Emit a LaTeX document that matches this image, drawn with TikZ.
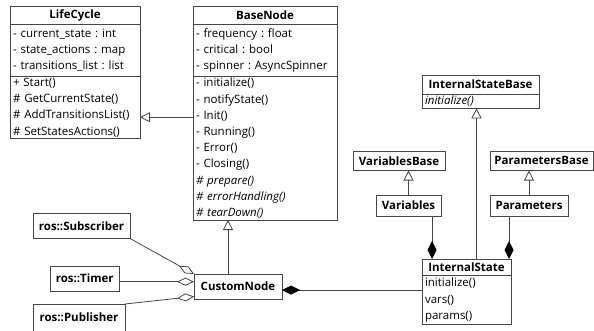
\documentclass[tikz,border=0pt]{standalone}
\usepackage{fontspec}
\setmainfont{Open Sans}
\usetikzlibrary{arrows.meta}

\definecolor{umlgray}{RGB}{70,70,70}

\tikzset{
  umlbox/.style={draw=umlgray,line width=.8pt,inner xsep=3pt,inner ysep=0pt,outer sep=0pt,
    font=\fontsize{11.5}{16.2}\selectfont\frenchspacing},
  umlhead/.style={umlbox,align=center,font=\fontsize{11.5}{16.2}\selectfont\bfseries},
  umlbody/.style={umlbox,align=left,anchor=north},
  inherit/.style={draw=umlgray,line width=.8pt,-{Triangle[open,length=10pt,width=10pt]}},
  aggr/.style={draw=umlgray,line width=.8pt,-{Diamond[open,length=17pt,width=8pt]}},
  compose/.style={draw=umlgray,line width=.8pt,-{Diamond[length=18pt,width=9pt,color=black]}},
}

\begin{document}
\begin{tikzpicture}[x=1pt,y=-1pt]
    \useasboundingbox (0,0) rectangle (594,330);
    % LifeCycle
    \node[umlhead,anchor=north west,text width=124pt,minimum height=18pt] (lc) at (10,6) {LifeCycle};
    \node[umlbody,text width=124pt,minimum height=52.5pt] (lc-attr) at (lc.south)
      {- current\_state : int\\- state\_actions : map\\- transitions\_list : list};
    \node[umlbody,text width=124pt,minimum height=62pt] (lc-ops) at (lc-attr.south)
      {+ Start()\\\# GetCurrentState()\\\# AddTransitionsList()\\\# SetStatesActions()};
    % BaseNode
    \node[umlhead,anchor=north west,text width=138pt,minimum height=18pt] (bn) at (193,6) {BaseNode};
    \node[umlbody,text width=138pt,minimum height=52.5pt] (bn-attr) at (bn.south)
      {- frequency : float\\- critical : bool\\- spinner : AsyncSpinner};
    \node[umlbody,text width=138pt,minimum height=143.5pt] (bn-ops) at (bn-attr.south)
      {- initialize()\\- notifyState()\\- Init()\\- Running()\\- Error()\\- Closing()\\
       \textit{\# prepare()}\\\textit{\# errorHandling()}\\\textit{\# tearDown()}};
    % CustomNode and ros members
    \node[umlhead,anchor=north west,text width=82pt,minimum height=25pt] (cn) at (194,274) {CustomNode};
    \node[umlhead,anchor=north west,text width=91pt,minimum height=25.5pt] (sub) at (33,213) {ros::Subscriber};
    \node[umlhead,anchor=north west,text width=63.5pt,minimum height=25pt] (timer) at (50,266) {ros::Timer};
    \node[umlhead,anchor=north west,text width=86pt,minimum height=27pt] (pub) at (33,304) {ros::Publisher};
    % internal state
    \node[umlhead,anchor=north west,text width=111pt,minimum height=19.3pt] (isb) at (422,75) {InternalStateBase};
    \node[umlbody,text width=111pt,minimum height=14pt] (isb-ops) at (isb.south) {\textit{initialize()}};
    \node[umlhead,anchor=north west,text width=86pt,minimum height=19.5pt] (vb) at (353,151) {VariablesBase};
    \node[umlhead,anchor=north west,text width=97pt,minimum height=19.5pt] (pb) at (490,151) {ParametersBase};
    \node[umlhead,anchor=north west,text width=59pt,minimum height=21pt] (var) at (376,195) {Variables};
    \node[umlhead,anchor=north west,text width=72pt,minimum height=21pt] (par) at (490,195) {Parameters};
    \node[umlhead,anchor=north west,text width=83pt,minimum height=16.7pt] (is) at (422,259) {InternalState};
    \node[umlbody,text width=83pt,minimum height=48.8pt] (is-ops) at (is.south)
      {initialize()\\vars()\\params()};
    % generalisations
    \coordinate (lc-in) at ([yshift=-9.75pt]lc-ops.east);
    \draw[inherit] (lc-in -| bn-ops.west) -- (lc-in);
    \coordinate (cn-up) at ([xshift=-10pt]cn.north);
    \draw[inherit] (cn-up) -- (cn-up |- bn-ops.south);
    \coordinate (is-up) at ([xshift=10pt]is.north);
    \draw[inherit] (is-up) -- (is-up |- isb-ops.south);
    \draw[inherit] (var.north) -- (var.north |- vb.south);
    \draw[inherit] (par.north) -- (par.north |- pb.south);
    % aggregations and compositions
    \draw[aggr] (sub.south east) -- (cn.north west);
    \coordinate (timer-out) at ([yshift=-3.2pt]timer.east);
    \draw[aggr] (timer-out) -- (timer-out -| cn.west);
    \draw[aggr] (pub.north east) -- ([yshift=-10pt]cn.west);
    \coordinate (is-left) at ([yshift=10pt]is-ops.west);
    \draw[compose] (is-left) -- (is-left -| cn.east);
    \coordinate (is-var) at ([xshift=10pt]is.north west);
    \draw[compose] (is-var |- var.south) -- (is-var);
    \coordinate (is-par) at ([xshift=-2pt]is.north east);
    \draw[compose] (is-par |- par.south) -- (is-par);
  \end{tikzpicture}
\end{document}
